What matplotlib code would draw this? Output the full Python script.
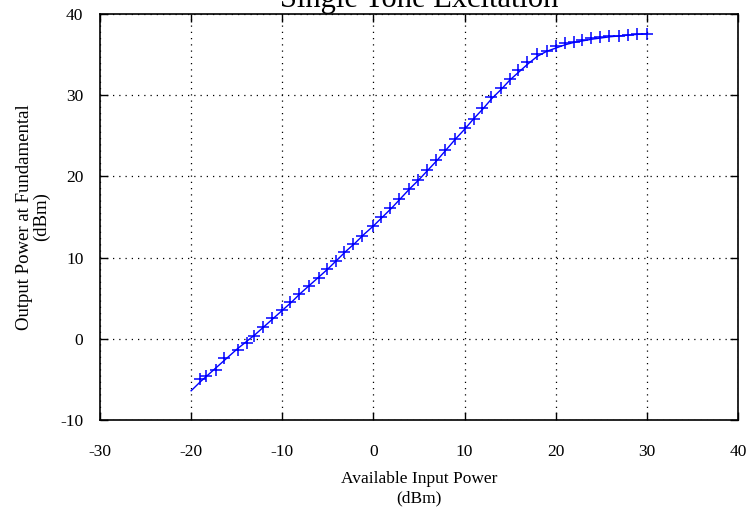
import matplotlib
matplotlib.use('Agg')
import matplotlib.pyplot as plt
import numpy as np

# measured points (+ markers)
meas_pin = [-19.0, -18.4, -17.3, -16.4, -14.9, -13.9, -13.1, -12.1, -11.1, -10.0,
            -9.1, -8.2, -7.1, -6.0, -5.1, -4.1, -3.2, -2.2, -1.2, 0.0,
            0.8, 1.8, 2.8, 3.9, 4.9, 5.9, 6.9, 7.9, 8.9, 10.0,
            11.0, 11.9, 12.9, 14.0, 15.0, 15.9, 16.9, 18.0, 19.0, 20.0,
            21.0, 22.0, 22.9, 23.9, 24.9, 25.9, 26.9, 27.9, 28.9, 30.0]
meas_pout = [-4.96, -4.56, -3.9, -2.38, -1.44, -0.53, 0.37, 1.51, 2.55, 3.53,
             4.56, 5.54, 6.56, 7.51, 8.58, 9.61, 10.63, 11.62, 12.68, 13.92,
             15.0, 16.1, 17.2, 18.5, 19.58, 20.8, 22.0, 23.3, 24.6, 25.9,
             27.1, 28.43, 29.77, 30.88, 31.98, 33.13, 34.15, 35.06, 35.5, 36.08,
             36.37, 36.58, 36.82, 36.99, 37.11, 37.28, 37.35, 37.44, 37.52, 37.56]

# simulated curve (solid line)
sim_pin = list(range(-20, 31))
sim_pout = [-6.4, -5.3, -4.3, -3.3, -2.3, -1.3, -0.4, 0.5, 1.5, 2.5,
            3.5, 4.5, 5.6, 6.6, 7.6, 8.6, 9.7, 10.8, 11.8, 12.9,
            13.9, 15.0, 16.1, 17.3, 18.5, 19.6, 20.8, 22.0, 23.3, 24.6,
            25.8, 27.1, 28.3, 29.6, 30.7, 31.9, 32.9, 33.9, 34.8, 35.4,
            35.8, 36.2, 36.5, 36.7, 36.9, 37.05, 37.2, 37.3, 37.4, 37.5, 37.55]

plt.rcParams['font.family'] = ['Liberation Serif', 'DejaVu Serif']
plt.rcParams['axes.unicode_minus'] = False

fig = plt.figure(figsize=(7.52, 5.16), dpi=100)
ax = fig.add_axes([100/752, 96/516, 638/752, 406/516])

ax.plot(sim_pin, sim_pout, color='#0000ff', lw=1.0)
ax.plot(meas_pin, meas_pout, ls='none', marker='+', color='#0000ff',
        markersize=8, markeredgewidth=1.1)

ax.set_xlim(-30, 40)
ax.set_ylim(-10, 40)
ax.set_xticks(np.arange(-30, 41, 10))
ax.set_yticks(np.arange(-10, 41, 10))
ax.grid(True, color='black', linestyle=(0, (1, 4)), linewidth=0.9)
ax.tick_params(direction='in', length=6, width=1, top=True, right=True,
               labelsize=12.5)
ax.tick_params(axis='x', pad=17)
ax.tick_params(axis='y', pad=12)
for s in ax.spines.values():
    s.set_linewidth(1.2)

ax.set_xlabel('Available Input Power\n(dBm)', fontsize=12.5, labelpad=8,
              linespacing=1.3)
ax.set_ylabel('Output Power at Fundamental\n(dBm)', fontsize=13.5, labelpad=7,
              linespacing=1.05)

fig.text(419/752, 1 - 7/516, 'Single Tone Excitation', ha='center',
         va='baseline', fontsize=22)

fig.savefig('out.png', dpi=100)
